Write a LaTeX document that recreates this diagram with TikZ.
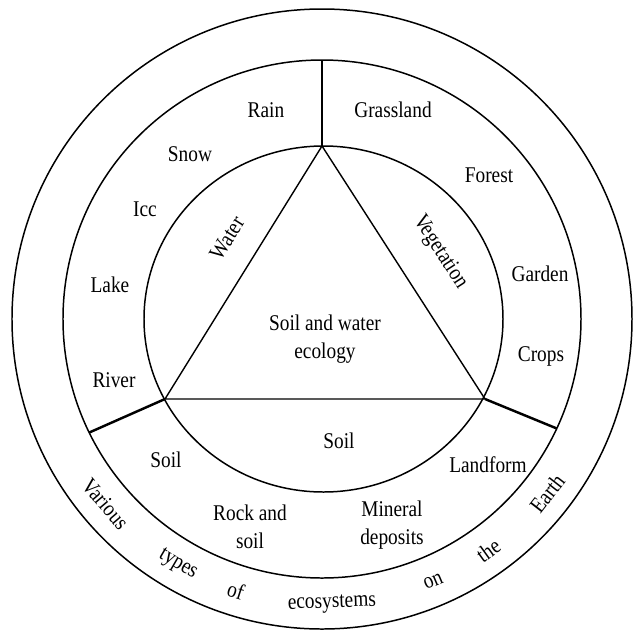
\documentclass[tikz,border=0pt]{standalone}
\usepackage{fontspec}
\setmainfont{Liberation Serif}[FakeStretch=0.86]
\usepackage{tikz}
\usetikzlibrary{calc}
\tikzset{
  ring/.style={draw=black,line width=0.85pt},
  tri/.style={draw=black,line width=0.8pt,line join=miter},
  divider/.style={draw=black,line width=1.4pt},
  lbl/.style={font=\fontsize{12.8}{16}\selectfont,align=center,inner sep=0pt},
}
\begin{document}
\begin{tikzpicture}[x=0.02cm,y=0.02cm]
\useasboundingbox (-322,-311) rectangle (313,319);
% rings
\draw[ring] (0,0) circle (310);
\draw[ring] (0,0) circle (259);
\draw[ring] (1.5,0) ellipse (179.5 and 173);
% triangle
\coordinate (apex) at (0,173);
\coordinate (baseL) at (-157,-80);
\coordinate (baseR) at (163,-80);
\draw[tri] (apex)--(baseR)--(baseL)--cycle;
% dividers
\coordinate (divT) at (90:258);
\coordinate (divL) at (206:259);
\coordinate (divR) at (335:259);
\draw[divider] (apex)--(divT);
\draw[divider] (baseL)--(divL);
\draw[divider] (baseR)--(divR);
% centre
\node[lbl] (core) at (3,-20) {Soil and water\\ecology};
\node[lbl,rotate=58] (water) at (-95,81) {Water};
\node[lbl,rotate=-57] (veg) at (118,67) {Vegetation};
\node[lbl] (soilIn) at (17,-122) {Soil};
% water band
\node[lbl] (rain) at (-56,209) {Rain};
\node[lbl] (snow) at (-132,165) {Snow};
\node[lbl] (icc) at (-177,110) {Icc};
\node[lbl] (lake) at (-212,34) {Lake};
\node[lbl] (river) at (-208,-61) {River};
% vegetation band
\node[lbl] (grass) at (71,209) {Grassland};
\node[lbl] (forest) at (167,144) {Forest};
\node[lbl] (garden) at (218,45) {Garden};
\node[lbl] (crops) at (219,-37) {Crops};
% soil band
\node[lbl] (soilOut) at (-156,-141) {Soil};
\node[lbl] (rock) at (-72,-208) {Rock and\\soil};
\node[lbl] (mineral) at (70,-206) {Mineral\\deposits};
\node[lbl] (landform) at (166,-146) {Landform};
% outer band
\foreach \a/\w [count=\i] in {220.5/Various,239.6/types,252.4/of,272/ecosystems,293/on,305.7/the,322.2/Earth}{
  \node[lbl,rotate=\a+90] (eco\i) at (\a:285) {\w};
}
\end{tikzpicture}
\end{document}
